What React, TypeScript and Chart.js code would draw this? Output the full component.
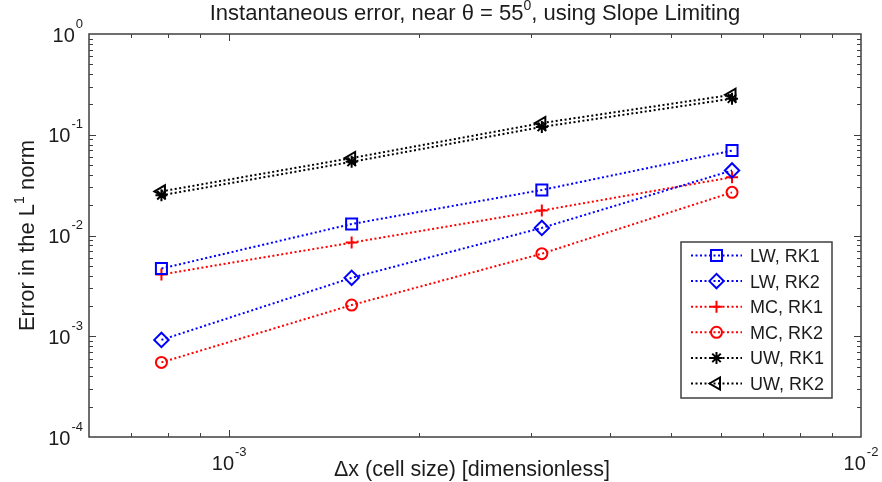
import React, { useEffect, useRef } from 'react';
import { Chart, registerables } from 'chart.js';

Chart.register(...registerables);

// ---------- data ----------
const dx = [7.8125e-4, 1.5625e-3, 3.125e-3, 6.25e-3];
const lwRk1 = [4.7e-3, 1.3e-2, 2.83e-2, 6.96e-2];
const lwRk2 = [9.2e-4, 3.8e-3, 1.19e-2, 4.42e-2];
const mcRk1 = [4.1e-3, 8.5e-3, 1.77e-2, 3.79e-2];
const mcRk2 = [5.5e-4, 2.04e-3, 6.6e-3, 2.68e-2];
const uwRk1 = [0.0251, 0.0538, 0.1196, 0.2283];
const uwRk2 = [0.0274, 0.0587, 0.1306, 0.2493];

const seriesNames = ['LW, RK1', 'LW, RK2', 'MC, RK1', 'MC, RK2', 'UW, RK1', 'UW, RK2'];
const seriesValues = [lwRk1, lwRk2, mcRk1, mcRk2, uwRk1, uwRk2];
const seriesColors = ['#0000ff', '#0000ff', '#ff0000', '#ff0000', '#000000', '#000000'];
const seriesMarkers = ['rect', 'rectRot', 'cross', 'circle', 'star', 'triangle'];

const xMin = 6e-4;
const xMax = 1e-2;
const yMin = 1e-4;
const yMax = 1;
const xTickExps = [-3, -2];
const yTickExps = [0, -1, -2, -3, -4];

const titleParts = ['Instantaneous error, near \u03b8 = 55', '0', ', using Slope Limiting'];
const xTitle = '\u0394x (cell size) [dimensionless]';
const yTitleParts = ['Error in the L', '1', ' norm'];

const FONT = '"Liberation Sans", Arial, Helvetica, sans-serif';
const TEXT = '#1c1c1c';
const AXIS = '#3f3f3f';
const BIG = 22;

const markerSizes: Record<string, number> = {
  rect: 7.8,
  rectRot: 7.2,
  cross: 6,
  circle: 5.5,
  star: 6,
  triangle: 7,
};

function drawMarker(ctx: CanvasRenderingContext2D, style: string, x: number, y: number, color: string) {
  const r = markerSizes[style];
  ctx.save();
  ctx.setLineDash([]);
  ctx.strokeStyle = color;
  ctx.lineWidth = 2;
  ctx.beginPath();
  if (style === 'rect') {
    const s = r * Math.SQRT1_2;
    ctx.rect(x - s, y - s, 2 * s, 2 * s);
  } else if (style === 'rectRot') {
    ctx.moveTo(x - r, y);
    ctx.lineTo(x, y - r);
    ctx.lineTo(x + r, y);
    ctx.lineTo(x, y + r);
    ctx.closePath();
  } else if (style === 'cross') {
    ctx.moveTo(x - r, y);
    ctx.lineTo(x + r, y);
    ctx.moveTo(x, y - r);
    ctx.lineTo(x, y + r);
  } else if (style === 'circle') {
    ctx.arc(x, y, r, 0, Math.PI * 2);
  } else if (style === 'star') {
    ctx.moveTo(x - r, y);
    ctx.lineTo(x + r, y);
    ctx.moveTo(x, y - r);
    ctx.lineTo(x, y + r);
    const d = r * Math.SQRT1_2;
    ctx.moveTo(x - d, y - d);
    ctx.lineTo(x + d, y + d);
    ctx.moveTo(x - d, y + d);
    ctx.lineTo(x + d, y - d);
  } else if (style === 'triangle') {
    ctx.moveTo(x - r, y);
    ctx.lineTo(x + r / 2, y - r * 0.866);
    ctx.lineTo(x + r / 2, y + r * 0.866);
    ctx.closePath();
  }
  ctx.stroke();
  ctx.restore();
}

function drawPow(
  ctx: CanvasRenderingContext2D,
  exp: string,
  ax: number,
  baseline: number,
  align: 'center' | 'right'
) {
  ctx.font = `20px ${FONT}`;
  const wb = ctx.measureText('10').width;
  ctx.font = `13px ${FONT}`;
  const we = ctx.measureText(exp).width;
  const total = wb + 1 + we;
  const x0 = align === 'center' ? ax - total / 2 : ax - total;
  ctx.textAlign = 'left';
  ctx.textBaseline = 'alphabetic';
  ctx.font = `20px ${FONT}`;
  ctx.fillText('10', x0, baseline);
  ctx.font = `13px ${FONT}`;
  ctx.fillText(exp, x0 + wb + 1, baseline - 14);
}

function expLabel(e: number) {
  return e < 0 ? '-' + Math.abs(e) : String(e);
}

const decor = {
  id: 'matlabDecor',
  afterDraw(chart: any) {
    const { ctx, chartArea: a, scales } = chart;
    const xs = scales.x;
    const ys = scales.y;
    ctx.save();
    ctx.fillStyle = TEXT;

    // frame
    ctx.strokeStyle = AXIS;
    ctx.lineWidth = 1.5;
    ctx.setLineDash([]);
    ctx.strokeRect(a.left, a.top, a.right - a.left, a.bottom - a.top);

    // ticks
    ctx.lineWidth = 1;
    ctx.beginPath();
    for (let d = -4; d <= 0; d++) {
      for (let k = 1; k <= 9; k++) {
        const v = k * Math.pow(10, d);
        const len = k === 1 ? 7 : 4;
        if (v > xMin * 1.0001 && v < xMax * 0.9999) {
          const px = Math.round(xs.getPixelForValue(v)) + 0.5;
          ctx.moveTo(px, a.bottom);
          ctx.lineTo(px, a.bottom - len);
          ctx.moveTo(px, a.top);
          ctx.lineTo(px, a.top + len);
        }
        if (v > yMin * 1.0001 && v < yMax * 0.9999) {
          const py = Math.round(ys.getPixelForValue(v)) + 0.5;
          ctx.moveTo(a.left, py);
          ctx.lineTo(a.left + len, py);
          ctx.moveTo(a.right, py);
          ctx.lineTo(a.right - len, py);
        }
      }
    }
    ctx.stroke();

    // tick labels
    xTickExps.forEach((e) => {
      const px = xs.getPixelForValue(Math.pow(10, e));
      drawPow(ctx, expLabel(e), px, a.bottom + 33, 'center');
    });
    yTickExps.forEach((e) => {
      const py = ys.getPixelForValue(Math.pow(10, e));
      drawPow(ctx, expLabel(e), a.left - 6, py + 7.5, 'right');
    });

    // title
    ctx.font = `${BIG}px ${FONT}`;
    const w0 = ctx.measureText(titleParts[0]).width;
    const w2 = ctx.measureText(titleParts[2]).width;
    ctx.font = `14px ${FONT}`;
    const w1 = ctx.measureText(titleParts[1]).width;
    const cx = (a.left + a.right) / 2;
    let tx = cx - (w0 + w1 + w2) / 2;
    ctx.textAlign = 'left';
    ctx.font = `${BIG}px ${FONT}`;
    ctx.fillText(titleParts[0], tx, 20);
    tx += w0;
    ctx.font = `14px ${FONT}`;
    ctx.fillText(titleParts[1], tx, 10);
    tx += w1;
    ctx.font = `${BIG}px ${FONT}`;
    ctx.fillText(titleParts[2], tx, 20);

    // x title
    ctx.textAlign = 'center';
    ctx.font = `21.5px ${FONT}`;
    ctx.fillText(xTitle, cx - 3, 476);

    // y title
    ctx.save();
    const cy = (a.top + a.bottom) / 2;
    ctx.translate(34, cy);
    ctx.rotate(-Math.PI / 2);
    ctx.font = `${BIG}px ${FONT}`;
    const y0 = ctx.measureText(yTitleParts[0]).width;
    const y2 = ctx.measureText(yTitleParts[2]).width;
    ctx.font = `14px ${FONT}`;
    const y1 = ctx.measureText(yTitleParts[1]).width;
    let yx = -(y0 + y1 + y2) / 2;
    ctx.textAlign = 'left';
    ctx.font = `${BIG}px ${FONT}`;
    ctx.fillText(yTitleParts[0], yx, 0);
    yx += y0;
    ctx.font = `14px ${FONT}`;
    ctx.fillText(yTitleParts[1], yx, -10);
    yx += y1;
    ctx.font = `${BIG}px ${FONT}`;
    ctx.fillText(yTitleParts[2], yx, 0);
    ctx.restore();

    // legend
    const bx = 681;
    const by = 242;
    const bw = 151;
    const bh = 156;
    ctx.fillStyle = '#ffffff';
    ctx.fillRect(bx, by, bw, bh);
    ctx.strokeStyle = AXIS;
    ctx.lineWidth = 1.5;
    ctx.strokeRect(bx, by, bw, bh);
    ctx.font = `18px ${FONT}`;
    ctx.textAlign = 'left';
    chart.data.datasets.forEach((ds: any, i: number) => {
      const ry = 255.5 + i * 25.6;
      ctx.strokeStyle = ds.borderColor;
      ctx.lineWidth = 2;
      ctx.setLineDash([2, 2.5]);
      ctx.beginPath();
      ctx.moveTo(691, ry);
      ctx.lineTo(742, ry);
      ctx.stroke();
      drawMarker(ctx, seriesMarkers[i], 716.5, ry, ds.borderColor);
      ctx.fillStyle = TEXT;
      ctx.fillText(ds.label, 750, ry + 6.5);
    });

    ctx.restore();
  },
};

export default function App() {
  const ref = useRef<HTMLCanvasElement | null>(null);

  useEffect(() => {
    const canvas = ref.current;
    if (!canvas) return;
    const datasets = seriesNames.map((name, i) => ({
      label: name,
      data: dx.map((x, j) => ({ x, y: seriesValues[i][j] })),
      borderColor: seriesColors[i],
      backgroundColor: 'rgba(0,0,0,0)',
      borderWidth: 2,
      borderDash: [2, 2.5],
      pointStyle: seriesMarkers[i],
      pointRadius: markerSizes[seriesMarkers[i]],
      pointRotation: seriesMarkers[i] === 'triangle' ? -90 : 0,
      pointBorderWidth: 2,
      pointBorderColor: seriesColors[i],
      pointBackgroundColor: 'rgba(0,0,0,0)',
      tension: 0,
      fill: false,
    }));
    const chart = new Chart(canvas, {
      type: 'line',
      data: { datasets },
      options: {
        animation: false,
        responsive: false,
        maintainAspectRatio: false,
        devicePixelRatio: 1,
        layout: { padding: { left: 89, right: 21, top: 34, bottom: 45 } },
        scales: {
          x: { type: 'logarithmic', min: xMin, max: xMax, display: false },
          y: { type: 'logarithmic', min: yMin, max: yMax, display: false },
        },
        plugins: {
          legend: { display: false },
          tooltip: { enabled: false },
          title: { display: false },
        },
      } as any,
      plugins: [decor],
    });
    return () => chart.destroy();
  }, []);

  return (
    <div style={{ position: 'fixed', left: 0, top: 0, width: 882, height: 482, background: '#fff' }}>
      <canvas ref={ref} width={882} height={482} style={{ display: 'block', width: 882, height: 482 }} />
    </div>
  );
}
